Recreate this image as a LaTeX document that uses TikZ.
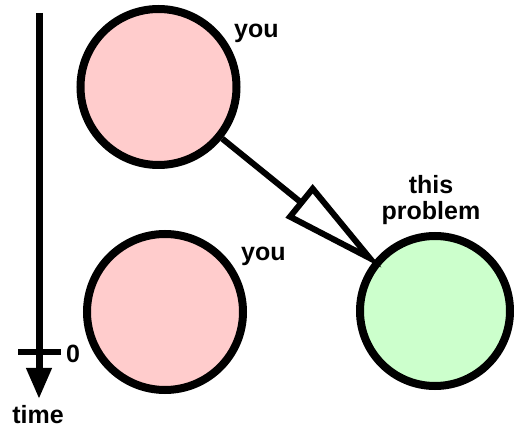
\documentclass[tikz,border=0pt]{standalone}
\usepackage{fontspec}
\setmainfont{Liberation Sans}
\usetikzlibrary{arrows.meta,calc}
\definecolor{pinkfill}{RGB}{255,204,204}
\definecolor{greenfill}{RGB}{204,255,204}
\begin{document}
\begin{tikzpicture}[x=1pt,y=-1pt,
  ball/.style={circle, draw=black, line width=8pt, inner sep=0pt},
  lab/.style={font=\fontsize{25}{29}\selectfont\bfseries, inner sep=0pt},
  conn/.style={line width=6pt},
]
\fill[white] (0,0) rectangle (514,427);
\useasboundingbox (0,0) rectangle (514,427);

% time axis
\coordinate (ttop) at (39,13);
\coordinate (tend) at (39,399);
\draw[line width=7pt, -{Triangle[length=31pt,width=24pt]}] (ttop) -- (tend);
\coordinate (tickL) at (18,352);
\coordinate (tickR) at (61,352);
\draw[line width=6pt] (tickL) -- (tickR);
\node[lab, anchor=base west] (zero) at (66,363) {0};
\node[lab, anchor=base] (time) at (38,423) {time};

% circles
\node[ball, fill=pinkfill, minimum size=156pt] (you1) at (158.5,87) {};
\node[ball, fill=pinkfill, minimum size=156pt] (you2) at (165,312) {};
\node[ball, fill=greenfill, minimum size=150pt] (prob) at (435,311) {};

\node[lab, anchor=base west] (l1) at (234,38) {you};
\node[lab, anchor=base west] (l2) at (241,261) {you};
\node[lab, anchor=base] (l3) at (431,194) {this};
\node[lab, anchor=base] (l4) at (431,220) {problem};

% arrow with open triangular head
\coordinate (tip) at ($(prob)!84pt!(you1)$);
\coordinate (base) at ($(tip)!88pt!(you1)$);
\coordinate (c1) at ($(base)!18pt!90:(tip)$);
\coordinate (c2) at ($(base)!18pt!-90:(tip)$);
\draw[conn] (you1) -- (base);
\draw[conn, line join=miter] (tip) -- (c1) -- (c2) -- cycle;
\end{tikzpicture}
\end{document}
